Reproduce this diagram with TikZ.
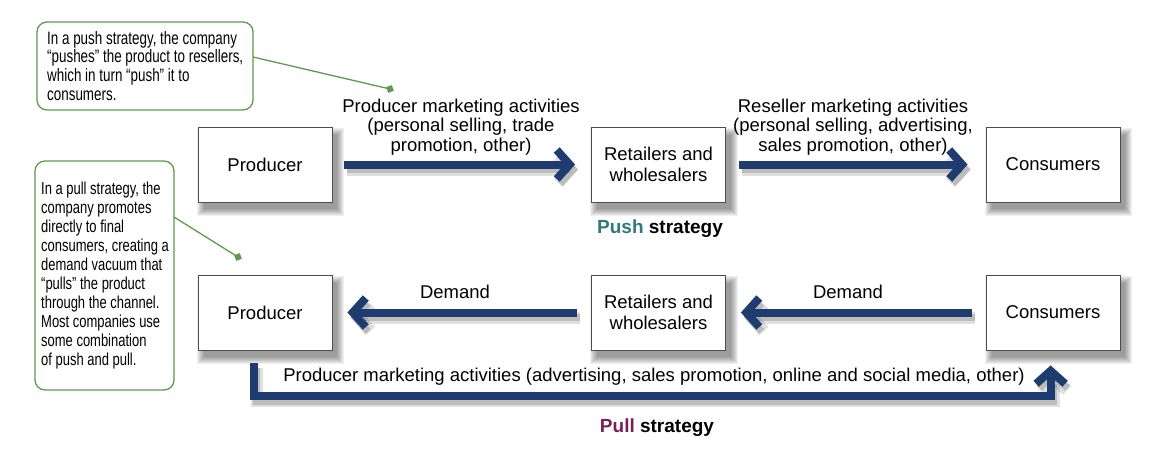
\documentclass[tikz,border=0pt]{standalone}
\usepackage{fontspec}
\setmainfont{Liberation Sans}
\newfontfamily\pushfont[FakeStretch=0.745]{Liberation Sans}
\newfontfamily\pullfont[FakeStretch=0.75]{Liberation Sans}
\usetikzlibrary{arrows.meta,calc}
\pgfdeclarelayer{bg}
\pgfsetlayers{bg,main}
\definecolor{navy}{HTML}{1F3C70}
\definecolor{callgreen}{HTML}{5B9B4C}
\definecolor{pushcol}{HTML}{2E7A80}
\definecolor{pullcol}{HTML}{7A1F5C}
\tikzset{
  box/.style={draw=black!70, line width=0.8pt, fill=white, minimum width=134pt, minimum height=75pt, inner sep=0pt, align=center, font=\fontsize{18.5}{20.5}\selectfont},
  callout/.style={draw=callgreen, line width=1.3pt, rounded corners=10pt, fill=white, inner sep=0pt},
  ctext/.style={align=left, anchor=north west, inner sep=0pt},
  lbl/.style={font=\fontsize{18.5}{19.5}\selectfont, align=center, inner sep=0pt},
  big/.style={draw=navy, line width=8pt, -{Straight Barb[length=13pt,width=29pt]}},
  bigsh/.style={draw=black, opacity=0.12, line width=12pt, -{Straight Barb[length=12pt,width=27pt]}},
  bigsh2/.style={draw=black, opacity=0.16, line width=7pt, -{Straight Barb[length=13pt,width=28pt]}},
  cline/.style={draw=callgreen, line width=1.3pt},
  sq/.style={fill=callgreen, minimum size=6pt, inner sep=0pt, rotate=20},
  ttl/.style={font=\bfseries\fontsize{19}{21}\selectfont}
}
\newcommand{\pusharrows}[1]{%
  \draw[#1] ([xshift=12pt]p1.east) -- ([xshift=-16pt]r1.west);
  \draw[#1] ([xshift=13pt]r1.east) -- ([xshift=-18pt]c1.west);
  \draw[#1] ([xshift=-14pt]r2.west) -- ([xshift=15pt]p2.east);
  \draw[#1] ([xshift=-14pt]c2.west) -- ([xshift=15pt]r2.east);
  \draw[#1] ([xshift=56pt,yshift=-13pt]p2.south west) |- ([xshift=65pt,yshift=-46pt]c2.south west) -- ([xshift=65pt,yshift=-15pt]c2.south west);
}
\begin{document}
\begin{tikzpicture}[x=1pt,y=-1pt]
\useasboundingbox (0,0) rectangle (1174,468);
% boxes
\node[box] (p1) at (265,164.5) {Producer};
\node[box] (r1) at (658.5,164.5) {Retailers and\\wholesalers};
\node[box] (c1) at (1053,164.5) {Consumers};
\node[box] (p2) at (265,312.5) {Producer};
\node[box] (r2) at (658.5,312.5) {Retailers and\\wholesalers};
\node[box] (c2) at (1053,312.5) {Consumers};
% soft shadows of boxes
\begin{pgfonlayer}{bg}
\foreach \n in {p1,r1,c1,p2,r2,c2}{
  \foreach \e in {7,6,5,4,3,2,1,0}{
    \fill[black, opacity=0.06] ([xshift=6pt-\e pt, yshift=-7pt-\e pt]\n.south west) rectangle ([xshift=5pt+\e pt, yshift=-8pt+\e pt]\n.north east);
  }
}
\end{pgfonlayer}
% arrow shadows
\begin{scope}[transform canvas={xshift=3pt, yshift=-5pt}]
\pusharrows{bigsh}
\pusharrows{bigsh2}
\end{scope}
% arrows
\pusharrows{big}
% labels
\node[lbl] (l1) at (461,127) {Producer marketing activities\\(personal selling, trade\\promotion, other)};
\node[lbl] (l2) at (853,127) {Reseller marketing activities\\(personal selling, advertising,\\sales promotion, other)};
\node[lbl] (d1) at (455,292) {Demand};
\node[lbl] (d2) at (848,292) {Demand};
\node[lbl] (l3) at (654,377) {Producer marketing activities (advertising, sales promotion, online and social media, other)};
\node[ttl] (ps) at (660,229) {\textcolor{pushcol}{Push} strategy};
\node[ttl] (pl) at (657,428) {\textcolor{pullcol}{Pull} strategy};
% callouts
\draw[callout] (37,22) rectangle (253,110);
\node[ctext, font=\pushfont\fontsize{18}{18.7}\selectfont] (t1) at (47,31) {In a push strategy, the company\\“pushes” the product to resellers,\\which in turn “push” it to\\consumers.};
\draw[callout] (35,161) rectangle (174,390);
\node[ctext, font=\pullfont\fontsize{17.3}{19}\selectfont] (t2) at (41,182) {In a pull strategy, the\\company promotes\\directly to final\\consumers, creating a\\demand vacuum that\\“pulls” the product\\through the channel.\\Most companies use\\some combination\\of push and pull.};
\node[sq] (s1) at (390,89) {};
\node[sq] (s2) at (238,257) {};
\coordinate (a1) at (253,57);
\coordinate (a2) at (174,217);
\draw[cline] (a1) -- (s1.center);
\draw[cline] (a2) -- (s2.center);
\end{tikzpicture}
\end{document}
